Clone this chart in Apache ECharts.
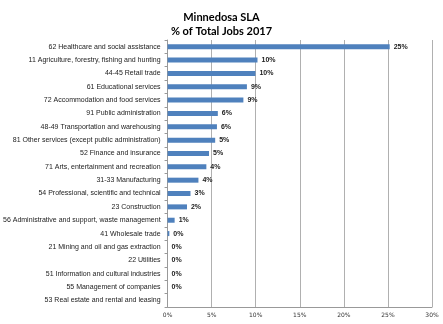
<!DOCTYPE html>
<html><head><meta charset="utf-8">
<script src="https://cdn.jsdelivr.net/npm/echarts@6/dist/echarts.min.js"></script>
<style>html,body{margin:0;padding:0;background:#fff}#c{width:443px;height:324px}</style>
</head><body><div id="c"></div>
<script>
const categories = [
 "62 Healthcare and social assistance",
 "11 Agriculture, forestry, fishing and hunting",
 "44-45 Retail trade",
 "61 Educational services",
 "72 Accommodation and food services",
 "91 Public administration",
 "48-49 Transportation and warehousing",
 "81 Other services (except public administration)",
 "52 Finance and insurance",
 "71 Arts, entertainment and recreation",
 "31-33 Manufacturing",
 "54 Professional, scientific and technical",
 "23 Construction",
 "56 Administrative and support, waste management",
 "41 Wholesale trade",
 "21 Mining and oil and gas extraction",
 "22 Utilities",
 "51 Information and cultural industries",
 "55 Management of companies",
 "53 Real estate and rental and leasing"
];
const values = [25.2, 10.2, 9.97, 9.0, 8.6, 5.7, 5.6, 5.4, 4.7, 4.4, 3.5, 2.6, 2.2, 0.8, 0.2, 0, 0, 0, 0, null];
const xTicks = [0, 5, 10, 15, 20, 25, 30];

const chart = echarts.init(document.getElementById('c'));
chart.setOption({
  animation: false,
  title: {
    text: 'Minnedosa SLA\n% of Total Jobs 2017',
    left: 'center', top: 5,
    textStyle: { fontFamily: 'Lato', fontWeight: 'bold', fontSize: 11, lineHeight: 14, color: '#000' }
  },
  grid: { left: 165, right: 11, top: 40, bottom: 17, containLabel: false },
  xAxis: {
    type: 'value', min: xTicks[0], max: xTicks[xTicks.length - 1], interval: 5,
    axisLine: { show: true, lineStyle: { color: '#999', width: 1 } },
    axisTick: { show: false },
    splitLine: { show: true, lineStyle: { color: '#b0b0b0', width: 1 } },
    axisLabel: { formatter: v => v + '%', fontFamily: 'DejaVu Sans', fontSize: 6, color: '#333', margin: 5 }
  },
  yAxis: {
    type: 'category', data: categories, inverse: true,
    axisLine: { show: true, lineStyle: { color: '#999' } },
    axisTick: { show: true, length: 3, lineStyle: { color: '#999' } },
    axisLabel: { fontFamily: 'Liberation Sans', fontSize: 7, color: '#222', margin: 7 }
  },
  series: [{
    type: 'bar', data: values, barWidth: 5,
    itemStyle: { color: '#4F81BD' },
    label: {
      show: true, position: 'right', distance: 4,
      formatter: p => p.value == null ? '' : Math.round(p.value) + '%',
      fontFamily: 'Liberation Sans', fontWeight: 'bold', fontSize: 7, color: '#222'
    }
  }]
});
</script></body></html>
